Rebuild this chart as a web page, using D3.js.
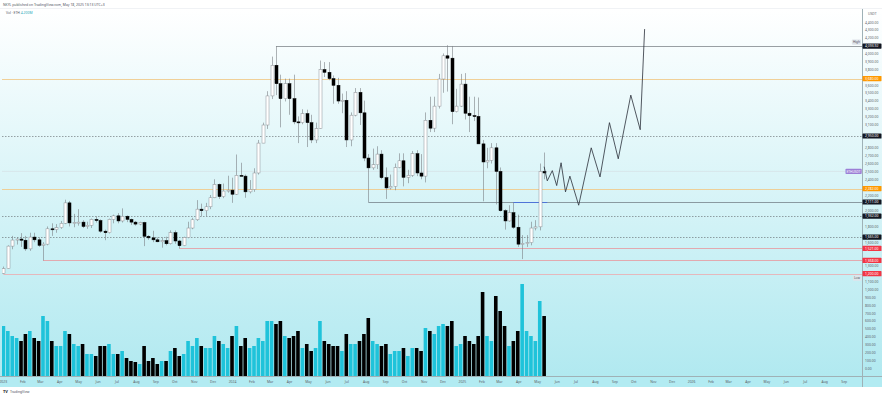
<!DOCTYPE html>
<html>
<head>
<meta charset="utf-8">
<script src="https://cdn.jsdelivr.net/npm/d3@7"></script>
<style>
html, body { margin: 0; padding: 0; background: #fff; }
svg { display: block; font-family: "Noto Sans", Roboto, sans-serif; }
</style>
</head>
<body>
<svg id="chart" width="882" height="395"></svg>
<script>
"use strict";
// weekly ETH/USDT candles, Mon 2 Jan 2023 .. Mon 12 May 2025
const firstWeek = new Date(2023, 0, 2);
const lastWeek = new Date(2025, 4, 12);
const opens = [1205,1264,1550,1627,1640,1625,1515,1665,1630,1560,
  1575,1770,1760,1785,1840,2100,1845,1850,1855,1800,
  1815,1890,1875,1740,1720,1890,1935,1870,1930,1890,
  1855,1830,1850,1675,1655,1630,1605,1620,1580,1720,
  1615,1555,1660,1780,1885,2020,2000,2050,2165,2335,
  2180,2250,2262,2210,2450,2440,2240,2270,2480,2860,
  3090,3460,3850,3615,3425,3615,3425,3130,3120,3235,
  3120,2900,3045,3795,3760,3680,3595,3395,3405,2900,
  3215,3505,3245,2670,2545,2585,2720,2420,2290,2310,
  2550,2635,2425,2450,2725,2480,2440,3150,3050,3330,
  3675,3970,3940,3260,3330,3610,3240,3210,3200,2850,
  2620,2640,2800,2500,2000,1870,1975,1790,1575,1585,
  1595,1780,1795,2500];
const highs = [1290,1560,1680,1660,1715,1680,1720,1720,1660,1600,
  1800,1840,1830,1870,2140,2125,1960,2020,1880,1860,
  1900,1930,1890,1760,1900,1950,1970,2030,1940,1900,
  1870,1860,1860,1690,1745,1660,1660,1670,1750,1750,
  1630,1670,1860,1910,2135,2090,2100,2200,2400,2345,
  2345,2445,2420,2715,2610,2460,2390,2540,2900,3120,
  3520,3960,4093,3730,3680,3680,3730,3200,3290,3285,
  3220,3120,3910,3890,3890,3720,3690,3490,3520,3250,
  3560,3560,3400,2720,2790,2820,2770,2550,2460,2600,
  2730,2730,2520,2760,2770,2720,3250,3450,3450,3740,
  4000,4105,4095,3550,3740,3750,3450,3450,3440,2900,
  2800,2860,2860,2550,2020,2070,2100,1950,1690,1690,
  1860,1880,2600,2740];
const lows = [1200,1259,1510,1570,1540,1490,1490,1600,1540,1368,
  1560,1680,1720,1770,1830,1800,1790,1810,1780,1770,
  1780,1850,1720,1625,1710,1840,1840,1850,1855,1820,
  1810,1815,1550,1630,1600,1600,1530,1560,1570,1580,
  1521,1550,1650,1765,1870,1930,1930,2020,2160,2150,
  2160,2230,2100,2200,2440,2165,2220,2240,2460,2860,
  3040,3420,3470,3060,3390,3220,3100,2860,3100,2810,
  2860,2860,3040,3700,3660,3360,3360,3240,2810,2820,
  3200,3090,2630,2111,2520,2530,2400,2150,2270,2260,
  2540,2310,2350,2430,2440,2400,2360,3000,3000,3300,
  3500,3515,3100,3250,3320,3160,3000,3140,2850,2120,
  2540,2600,2080,1990,1760,1860,1770,1540,1385,1540,
  1560,1750,1750,2400];
const closes = [1264,1550,1627,1640,1625,1515,1665,1630,1560,1575,
  1770,1760,1785,1840,2100,1845,1850,1855,1800,1815,
  1890,1875,1740,1720,1890,1935,1870,1930,1890,1855,
  1830,1850,1675,1655,1630,1605,1620,1580,1720,1615,
  1555,1660,1780,1885,2020,2000,2050,2165,2335,2180,
  2250,2262,2210,2450,2440,2240,2270,2480,2860,3090,
  3460,3850,3615,3425,3615,3425,3130,3120,3235,3120,
  2900,3045,3795,3760,3680,3595,3395,3405,2900,3215,
  3505,3245,2670,2545,2585,2720,2420,2290,2310,2550,
  2635,2425,2450,2725,2480,2440,3150,3050,3330,3675,
  3970,3940,3260,3330,3610,3240,3210,3200,2850,2620,
  2640,2800,2500,2000,1870,1975,1790,1575,1585,1595,
  1780,1795,2500,2480];
// weekly volume, thousand ETH
const volumes = [3500,3150,2800,2660,2450,2940,3150,2660,2450,4200,
  3850,2450,2100,2100,3150,2940,2240,2100,2240,1540,
  1540,1400,2100,2100,2240,1540,1540,1750,1260,1050,
  980,840,2100,1050,1260,840,1050,1050,1750,1960,
  1400,1540,2450,2100,2660,2100,1960,1960,2800,2450,
  2240,1960,2800,3500,2100,2660,1960,2100,2660,2450,
  3850,3850,3640,3850,2800,2660,2800,3150,1960,2240,
  1750,1960,3850,2450,2240,2100,2100,1750,2940,2240,
  2240,2450,2940,4060,2450,2240,2100,2240,1540,1750,
  1750,1960,1400,1960,1960,1750,3360,3150,2940,3500,
  3640,3500,3850,2100,2240,2800,2450,2240,2800,5880,
  2800,2450,5600,4550,3500,2100,2450,3150,6440,3150,
  2800,2450,5250,4200];

// drawn projection path
const projDates = ["2025-05-12","2025-05-17","2025-05-25","2025-06-01","2025-06-08","2025-06-15",
  "2025-06-22","2025-07-06","2025-07-26","2025-08-09","2025-08-24","2025-09-07",
  "2025-09-27","2025-10-12","2025-10-19"];
const projPrices = [2560,2380,2510,2320,2610,2240,2440,2070,2800,2430,3120,2660,3470,3030,4310];

// horizontal levels
const levelNames = ["high","orangeTop","dashTop","orangeLow","augLow","dashMid","dashLow","octLow","marLow","janLow"];
const levelPrices = [4093.92,3680.00,2950.00,2282.00,2111.00,1932.00,1665.00,1521.00,1368.00,1200.00];
const levelFrom = ["2024-03-11",null,null,null,"2024-08-05",null,null,"2023-10-09","2023-03-06","2023-01-02"];
const blueSegment = {from: "2025-03-24", to: "2025-05-17", price: 2111.00};
const markerText = "ETHUSDT";
const markerPrice = 2500;

const priceTicks = d3.range(0, 4401, 100);

const W = 882, H = 395;
const pane = {left: 2, top: 9, right: 862, bottom: 376};
const svg = d3.select("#chart");
const parse = d3.timeParse("%Y-%m-%d");

const weeks = d3.timeMonday.range(firstWeek, d3.timeDay.offset(lastWeek, 1));
const candles = weeks.map((d, i) => ({date: d, o: opens[i], h: highs[i], l: lows[i], c: closes[i], v: volumes[i]}));

const x = d3.scaleTime()
  .domain([new Date(2023, 0, 1), new Date(2026, 8, 30)])
  .range([2.8, 861.9]);
const y = d3.scaleLinear().domain([0, 4400]).range([368, 22]);
const yVol = d3.scaleLinear().domain([0, 7000]).range([pane.bottom, pane.bottom - 100]);

// background
const defs = svg.append("defs");
const grad = defs.append("linearGradient").attr("id", "bg").attr("x1", 0).attr("x2", 0).attr("y1", 0).attr("y2", 1);
grad.append("stop").attr("offset", 0).attr("stop-color", "#ffffff");
grad.append("stop").attr("offset", 1).attr("stop-color", "#b1e9f0");
defs.append("clipPath").attr("id", "clip").append("rect")
  .attr("x", pane.left).attr("y", pane.top).attr("width", pane.right - pane.left).attr("height", pane.bottom - pane.top);

svg.append("rect").attr("width", W).attr("height", H).attr("fill", "#fff");
svg.append("rect").attr("x", 0).attr("y", pane.top).attr("width", W).attr("height", pane.bottom - pane.top)
  .attr("fill", "url(#bg)");
svg.append("rect").attr("x", 0).attr("y", pane.bottom).attr("width", W).attr("height", 11).attr("fill", "#b2ebf2");

const plot = svg.append("g").attr("clip-path", "url(#clip)");

// volume
plot.append("g").selectAll("rect").data(candles).join("rect")
  .attr("x", d => x(d.date) - 1.8)
  .attr("width", 3.6)
  .attr("y", d => yVol(d.v))
  .attr("height", d => pane.bottom - yVol(d.v))
  .attr("fill", d => d.c >= d.o ? "#1fc3da" : "#000");

// levels
const levelStyle = {
  high: {stroke: "#80868b", dash: null, w: 0.8, box: "#131722"},
  orangeTop: {stroke: "#efcb8c", dash: null, w: 0.9, box: "#ff9800"},
  dashTop: {stroke: "#5f646a", dash: "1.5,1.5", w: 0.6, box: "#131722"},
  orangeLow: {stroke: "#efcb8c", dash: null, w: 0.9, box: "#ff9800"},
  augLow: {stroke: "#76838a", dash: null, w: 0.8, box: "#131722"},
  dashMid: {stroke: "#5f646a", dash: "1.5,1.5", w: 0.6, box: "#131722"},
  dashLow: {stroke: "#5f646a", dash: "1.5,1.5", w: 0.6, box: "#131722"},
  octLow: {stroke: "#e2a9af", dash: null, w: 1.2, box: "#f23645"},
  marLow: {stroke: "#e2a9af", dash: null, w: 1.2, box: "#f23645"},
  janLow: {stroke: "#e5b8bc", dash: null, w: 1.0, box: "#f23645"}
};
const levels = levelNames.map((n, i) => ({name: n, price: levelPrices[i], from: levelFrom[i] ? parse(levelFrom[i]) : null}));

// faint last price line
plot.append("line").attr("x1", pane.left).attr("x2", pane.right)
  .attr("y1", y(markerPrice)).attr("y2", y(markerPrice))
  .attr("stroke", "#d5dde2").attr("stroke-width", 0.6);

plot.append("g").selectAll("line").data(levels).join("line")
  .attr("x1", d => d.from ? x(d.from) : pane.left)
  .attr("x2", pane.right)
  .attr("y1", d => Math.round(y(d.price)) + 0.5)
  .attr("y2", d => Math.round(y(d.price)) + 0.5)
  .attr("stroke", d => levelStyle[d.name].stroke)
  .attr("stroke-width", d => levelStyle[d.name].w)
  .attr("stroke-dasharray", d => levelStyle[d.name].dash);

plot.append("line")
  .attr("x1", x(parse(blueSegment.from))).attr("x2", x(parse(blueSegment.to)))
  .attr("y1", Math.round(y(blueSegment.price)) + 0.5).attr("y2", Math.round(y(blueSegment.price)) + 0.5)
  .attr("stroke", "#4f74d8").attr("stroke-width", 1);

// candles
const cg = plot.append("g");
cg.selectAll("line").data(candles).join("line")
  .attr("x1", d => Math.round(x(d.date)) + 0.5)
  .attr("x2", d => Math.round(x(d.date)) + 0.5)
  .attr("y1", d => y(d.h)).attr("y2", d => y(d.l))
  .attr("stroke", "#7b7f84").attr("stroke-width", 0.6);
cg.selectAll("rect").data(candles).join("rect")
  .attr("x", d => Math.round(x(d.date)) - 1)
  .attr("width", 3)
  .attr("y", d => y(Math.max(d.o, d.c)))
  .attr("height", d => Math.max(1, Math.abs(y(d.o) - y(d.c))))
  .attr("fill", d => d.c >= d.o ? "#ffffff" : "#000000")
  .attr("stroke", d => d.c >= d.o ? "#8c9196" : "#000000")
  .attr("stroke-width", 0.5);

// projection
const proj = projDates.map((d, i) => ({date: parse(d), p: projPrices[i]}));
plot.append("path").datum(proj)
  .attr("fill", "none").attr("stroke", "#2a2e39").attr("stroke-width", 0.8)
  .attr("d", d3.line().x(d => x(d.date)).y(d => y(d.p)));

// marker tags inside pane
function tag(text, xr, yc, fill, color) {
  const g = svg.append("g");
  const t = g.append("text").attr("x", xr - 1).attr("y", yc + 1.1).attr("text-anchor", "end")
    .attr("font-size", 3.2).attr("fill", color).text(text);
  const bb = t.node().getBBox();
  g.insert("rect", "text").attr("x", bb.x - 1).attr("y", yc - 2.6).attr("width", bb.width + 2).attr("height", 5.2)
    .attr("rx", 0.8).attr("fill", fill);
}
tag("High", pane.right - 1, y(levelPrices[0]) - 4, "#dfe4ea", "#50535e");
tag("Low", pane.right - 1, y(levelPrices[9]) + 4.5, "#dfe4ea", "#50535e");
tag(markerText, pane.right - 0.5, y(markerPrice), "#9c7fd6", "#fff");

// axes frames
svg.append("line").attr("x1", pane.right + 0.5).attr("x2", pane.right + 0.5).attr("y1", pane.top).attr("y2", pane.bottom + 11)
  .attr("stroke", "#9fb1b6").attr("stroke-width", 1);
svg.append("line").attr("x1", 0).attr("x2", W).attr("y1", pane.bottom + 0.5).attr("y2", pane.bottom + 0.5)
  .attr("stroke", "#9fb1b6").attr("stroke-width", 1);
svg.append("line").attr("x1", 0).attr("x2", W).attr("y1", pane.top - 0.5).attr("y2", pane.top - 0.5)
  .attr("stroke", "#e6eaee").attr("stroke-width", 0.6);

// price axis
const boxY = levels.map(d => y(d.price));
const yAxis = d3.axisRight(y).tickValues(priceTicks.filter(p => boxY.every(b => Math.abs(y(p) - b) > 4.5)))
  .tickFormat(d3.format(",.2f")).tickSize(0).tickPadding(3);
const ya = svg.append("g").attr("transform", `translate(${pane.right},0)`).call(yAxis);
ya.select(".domain").remove();
ya.selectAll("text").attr("font-size", 3.4).attr("fill", "#5d6167").attr("font-family", "Noto Sans, sans-serif");
svg.append("text").attr("x", 868).attr("y", 14.5).attr("font-size", 3.4).attr("fill", "#5d6167").text("USDT");

const boxes = svg.append("g").selectAll("g").data(levels).join("g")
  .attr("transform", d => `translate(${pane.right + 0.5},${y(d.price)})`);
boxes.append("rect").attr("x", 0).attr("y", -2.6).attr("width", 19).attr("height", 5.2).attr("rx", 0.6)
  .attr("fill", d => levelStyle[d.name].box);
boxes.append("text").attr("x", 2.5).attr("y", 1.2).attr("font-size", 3.4).attr("fill", "#fff")
  .text(d => d3.format(",.2f")(d.price));

// time axis
const months = d3.timeMonth.range(new Date(2023, 0, 1), new Date(2026, 8, 2));
const xAxis = d3.axisBottom(x).tickValues(months)
  .tickFormat(d => d.getMonth() === 0 ? d3.timeFormat("%Y")(d) : d3.timeFormat("%b")(d))
  .tickSize(0).tickPadding(5);
const xa = svg.append("g").attr("transform", `translate(0,${pane.bottom})`).call(xAxis);
xa.select(".domain").remove();
xa.selectAll("text").attr("font-size", 3.4).attr("fill", "#5d6167").attr("font-family", "Noto Sans, sans-serif");

// header & legend
svg.append("text").attr("x", 3).attr("y", 5.5).attr("font-size", 3.4).attr("fill", "#50535e")
  .text("NKYL published on TradingView.com, May 18, 2025 13:13 UTC+3");
svg.append("text").attr("x", 6).attr("y", 14).attr("font-size", 3.4).attr("fill", "#50535e")
  .text("Vol · ETH  ").append("tspan").attr("fill", "#1fa5b8")
  .text(d3.format(".3f")(volumes[volumes.length - 1] / 1000) + "M");

// footer logo
const logo = svg.append("g").attr("transform", "translate(3,389)");
logo.append("text").attr("x", 0).attr("y", 3.5).attr("font-size", 4).attr("font-weight", 700).attr("fill", "#131722").text("TV");
logo.append("text").attr("x", 7).attr("y", 3.5).attr("font-size", 3.4).attr("fill", "#50535e").text("TradingView");
</script>
</body>
</html>
